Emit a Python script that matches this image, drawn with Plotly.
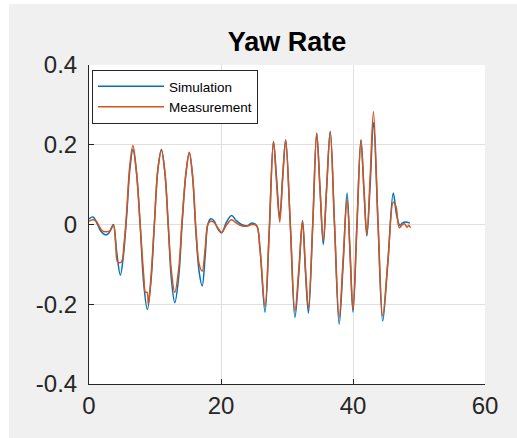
import plotly.graph_objects as go

# ---- data ----
sim_t = [0, 0.6, 1.3, 1.8, 2.5, 3.0, 3.4, 3.7, 4.2, 4.75, 5.2, 5.7, 6.2, 6.66, 7.2, 7.75,
         8.3, 8.84, 9.4, 9.9, 10.45, 10.97, 11.5, 12.0, 12.5, 13.0, 13.6, 14.1, 14.7, 15.2,
         15.7, 16.2, 16.7, 17.15, 17.6, 18.0, 18.4, 18.9, 19.5, 20.1, 20.8, 21.6, 22.3, 23.1,
         24.0, 24.65, 25.4, 25.9, 26.67, 27.3, 27.95, 28.4, 28.9, 29.35, 29.8, 30.5, 31.2,
         31.8, 32.35, 32.8, 33.25, 33.9, 34.5, 35.0, 35.5, 36.0, 36.55, 37.2, 37.9, 38.5,
         39.1, 39.55, 40.0, 40.6, 41.2, 41.65, 42.1, 42.6, 43.1, 43.8, 44.5, 45.3, 46.1,
         46.6, 47.1, 47.5, 47.95, 48.6]
sim_y = [0.014, 0.019, 0.0, -0.017, -0.026, -0.022, -0.008, 0.0, -0.07, -0.127, -0.08, 0.02,
         0.14, 0.188, 0.13, 0.0, -0.15, -0.213, -0.14, 0.0, 0.14, 0.188, 0.13, 0.0, -0.14,
         -0.196, -0.13, 0.0, 0.13, 0.18, 0.12, -0.02, -0.12, -0.154, -0.08, 0.0, 0.014, 0.01,
         -0.01, -0.021, 0.005, 0.0225, 0.01, 0.0, -0.003, 0.004, -0.003, -0.06, -0.22, -0.02,
         0.208, 0.12, 0.017, 0.12, 0.212, 0.0, -0.233, -0.12, 0.01, -0.12, -0.222, 0.0, 0.229,
         0.09, -0.05, 0.09, 0.233, 0.0, -0.25, -0.1, 0.079, -0.07, -0.22, 0.0, 0.212, 0.09,
         -0.029, 0.1, 0.256, 0.0, -0.242, -0.09, 0.079, 0.025, -0.002, 0.004, 0.006, 0.004]

meas_t = [0, 0.6, 1.1, 1.5, 2.0, 2.6, 3.2, 3.7, 4.05, 4.35, 4.9, 5.3, 5.7, 6.2, 6.66, 7.2,
          7.75, 8.3, 8.55, 8.8, 9.0, 9.4, 9.9, 10.45, 10.97, 11.5, 12.0, 12.5, 13.0, 13.6,
          14.1, 14.7, 15.2, 15.7, 16.2, 16.7, 17.15, 17.6, 18.0, 18.4, 18.9, 19.5, 20.1, 20.8,
          21.6, 22.3, 23.1, 24.0, 24.65, 25.4, 25.9, 26.67, 27.3, 27.95, 28.4, 28.9, 29.35,
          29.8, 30.5, 31.2, 31.8, 32.35, 32.8, 33.25, 33.9, 34.5, 35.0, 35.5, 36.0, 36.55,
          37.2, 37.9, 38.5, 39.1, 39.55, 40.0, 40.6, 41.2, 41.65, 42.1, 42.6, 43.1, 43.8,
          44.5, 45.3, 46.1, 46.5, 47.0, 47.4, 47.8, 48.2, 48.45, 48.7]
meas_y = [0.008, 0.012, 0.008, -0.003, -0.016, -0.018, -0.016, -0.002, -0.05, -0.094,
          -0.094, -0.05, 0.03, 0.15, 0.198, 0.13, 0.0, -0.13, -0.17, -0.17, -0.2, -0.13, 0.0,
          0.14, 0.186, 0.13, 0.0, -0.12, -0.17, -0.11, 0.01, 0.13, 0.181, 0.12, -0.01, -0.1,
          -0.117, -0.06, 0.0, 0.008, 0.006, -0.008, -0.02, -0.002, 0.012, 0.004, -0.003,
          -0.004, 0.0, -0.003, -0.06, -0.205, -0.02, 0.208, 0.11, 0.006, 0.12, 0.212, 0.0,
          -0.217, -0.11, 0.008, -0.11, -0.21, 0.0, 0.229, 0.09, -0.04, 0.09, 0.233, 0.0,
          -0.233, -0.09, 0.0625, -0.07, -0.213, 0.0, 0.212, 0.09, -0.025, 0.12, 0.283, 0.0,
          -0.229, -0.09, 0.056, 0.046, -0.008, -0.002, 0.002, -0.007, -0.002, -0.008]

x_ticks = [0, 20, 40, 60]
y_ticks = [-0.4, -0.2, 0, 0.2, 0.4]
y_tick_labels = ["-0.4", "-0.2", "0", "0.2", "0.4"]

# ---- figure ----
W, H = 517, 438
ML, MR, MT, MB = 89, 32, 65, 54
FONT = "Liberation Sans, Arial, Helvetica, sans-serif"
TXT = "#262626"

fig = go.Figure()
fig.add_trace(go.Scatter(x=sim_t, y=sim_y, mode="lines", name="Simulation",
                         line=dict(color="#0072BD", width=1.5, shape="spline", smoothing=1)))
fig.add_trace(go.Scatter(x=meas_t, y=meas_y, mode="lines", name="Measurement",
                         line=dict(color="#D95319", width=1.5, shape="spline", smoothing=1)))

pw, ph = W - ML - MR, H - MT - MB
# white strips at left and top edge of the picture
fig.add_shape(type="rect", xref="paper", yref="paper", layer="below",
              x0=-ML / pw, x1=(9 - ML) / pw, y0=-MB / ph, y1=(H - MB) / ph,
              line=dict(width=0), fillcolor="white")
fig.add_shape(type="rect", xref="paper", yref="paper", layer="below",
              x0=-ML / pw, x1=(W - ML) / pw, y0=(H - MB - 4) / ph, y1=(H - MB) / ph,
              line=dict(width=0), fillcolor="white")

fig.update_layout(
    width=W, height=H,
    margin=dict(l=ML, r=MR, t=MT, b=MB, pad=0),
    paper_bgcolor="#f0f0f0", plot_bgcolor="white",
    font=dict(family=FONT, color=TXT),
    title=dict(text="<b>Yaw Rate</b>", x=(ML + pw / 2) / W, xanchor="center",
               y=1 - 42 / H, yanchor="middle", font=dict(size=27, color="black")),
    showlegend=True,
    legend=dict(x=(92 - ML) / pw, y=1 - (70 - MT) / ph, xanchor="left", yanchor="top",
                bgcolor="white", bordercolor=TXT, borderwidth=1,
                font=dict(size=13.5, color="black"), itemwidth=66,
                tracegroupgap=0),
    xaxis=dict(range=[0, 60], tickvals=x_ticks, ticktext=[str(v) for v in x_ticks],
               showgrid=True, gridcolor="#dfdfdf", gridwidth=1, zeroline=False,
               showline=True, linecolor=TXT, linewidth=1, ticks="inside", ticklen=5,
               tickcolor=TXT, tickfont=dict(size=24, color=TXT)),
    yaxis=dict(range=[-0.4, 0.4], tickvals=y_ticks, ticktext=y_tick_labels,
               showgrid=True, gridcolor="#dfdfdf", gridwidth=1, zeroline=False,
               showline=True, linecolor=TXT, linewidth=1, ticks="inside", ticklen=5,
               tickcolor=TXT, tickfont=dict(size=24, color=TXT), ticklabelstandoff=6),
)

fig.write_html("out.html")
